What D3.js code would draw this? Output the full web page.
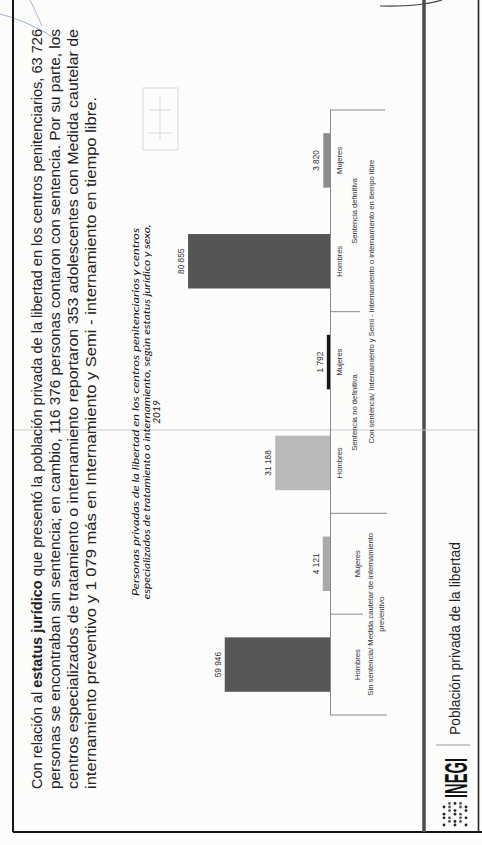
<!DOCTYPE html>
<html><head><meta charset="utf-8">
<script src="https://cdn.jsdelivr.net/npm/d3@7"></script>
<style>html,body{margin:0;padding:0;background:#fff;} svg{display:block}</style>
</head><body><svg id="c" width="482" height="845"></svg>
<script>
// ---------- DATA ----------
const topGroups = ["Sin sentencia/ Medida cautelar de internamiento", "Con sentencia/ Internamiento y Semi - internamiento o internamiento en tiempo libre"];
const statuses = ["Sin sentencia", "Sentencia no definitiva", "Sentencia definitiva"];
const sexes = ["Hombres", "Mujeres", "Hombres", "Mujeres", "Hombres", "Mujeres"];
const barStatus = [0, 0, 1, 1, 2, 2];
const values = [59946, 4121, 31188, 1792, 80855, 3820];
const titleLines = ["Personas privadas de la libertad en los centros penitenciarios y centros",
  "especializados de tratamiento o internamiento, según estatus jurídico y sexo,", "2019"];
const paragraph = [
  [["Con relación al ", false], ["estatus jurídico", true], [" que presentó la población privada de la libertad en los centros penitenciarios, 63 726", false]],
  [["personas se encontraban sin sentencia; en cambio, 116 376 personas contaron con sentencia. Por su parte, los", false]],
  [["centros especializados de tratamiento o internamiento reportaron 353 adolescentes con Medida cautelar de", false]],
  [["internamiento preventivo y 1 079 más en Internamiento y Semi - internamiento en tiempo libre.", false]]
];
const footerTitle = "Población privada de la libertad";
const barColors = ["#575757", "#a9a9a9", "#b9b9b9", "#161616", "#555555", "#8c8c8c"];

// ---------- PAGE (rotated frame: u along page, v across) ----------
const W = 482, H = 845;
const svg = d3.select("#c");
svg.append("rect").attr("width", W).attr("height", H).attr("fill", "#fcfcfb");
// pen marks (screen coords)
svg.append("path").attr("d", "M0,14 Q26,20 58,40").attr("fill", "none").attr("stroke", "#9ab0d0").attr("stroke-width", 1);
svg.append("path").attr("d", "M30,0 Q36,12 42,26").attr("fill", "none").attr("stroke", "#9ab0d0").attr("stroke-width", 0.9);
svg.append("path").attr("d", "M380,6 Q420,7 442,0").attr("fill", "none").attr("stroke", "#444").attr("stroke-width", 1.2);

const g = svg.append("g").attr("transform", `translate(0,${H}) rotate(-90)`);
const font = "'Liberation Sans', Arial, sans-serif";

// frame lines
g.append("line").attr("x1", 13).attr("x2", 845).attr("y1", 13).attr("y2", 13).attr("stroke", "#151515").attr("stroke-width", 2);
g.append("line").attr("x1", 13).attr("x2", 13).attr("y1", 13).attr("y2", 482).attr("stroke", "#151515").attr("stroke-width", 2);
g.append("line").attr("x1", 13).attr("x2", 845).attr("y1", 424).attr("y2", 424).attr("stroke", "#4d4d4d").attr("stroke-width", 3.5);
g.append("line").attr("x1", 13).attr("x2", 845).attr("y1", 478.5).attr("y2", 478.5).attr("stroke", "#222").attr("stroke-width", 1.6);
g.append("line").attr("x1", 415).attr("x2", 415).attr("y1", 14).attr("y2", 478).attr("stroke", "#c9c9c9").attr("stroke-width", 1);

// paragraph (justified via textLength)
const pStart = 56, pBase = [42, 60, 78, 96], pLen = [760, 760, 760, 692];
paragraph.forEach((segs, i) => {
  const t = g.append("text").attr("x", pStart).attr("y", pBase[i])
    .attr("font-family", font).attr("font-size", 14).attr("fill", "#222")
    .attr("textLength", pLen[i]).attr("lengthAdjust", "spacingAndGlyphs");
  segs.forEach(s => t.append("tspan").text(s[0]).attr("font-weight", s[1] ? "bold" : "normal"));
});

// faint bleed-through box
const bt = g.append("g").attr("stroke", "#d3dae2").attr("fill", "none").attr("stroke-width", 1);
bt.append("rect").attr("x", 695).attr("y", 143).attr("width", 62).attr("height", 35);
bt.append("line").attr("x1", 705).attr("x2", 748).attr("y1", 160).attr("y2", 160);
bt.append("line").attr("x1", 712).attr("x2", 712).attr("y1", 148).attr("y2", 172);
bt.append("line").attr("x1", 735).attr("x2", 735).attr("y1", 150).attr("y2", 170);

// chart title
const titleCx = 433, titleBase = [139, 150, 160], titleLen = [368, 375, null];
titleLines.forEach((l, i) => {
  const t = g.append("text").attr("x", titleCx).attr("y", titleBase[i]).attr("text-anchor", "middle")
    .attr("font-family", "Lato, 'Open Sans', sans-serif").attr("font-style", "italic")
    .attr("font-weight", 400).attr("font-size", 10.2).attr("fill", "#111").text(l);
  if (titleLen[i]) t.attr("textLength", titleLen[i]).attr("lengthAdjust", "spacingAndGlyphs");
});

// ---------- CHART ----------
const keys = d3.range(values.length);
const x = d3.scaleBand().domain(keys).range([130, 735]).paddingInner(0.46).paddingOuter(0.23);
const y = d3.scaleLinear().domain([0, 90000]).range([330, 172]);
const step = x.step();
const bound = i => 130 + i * step;
const fmt = v => d3.format(",")(v).replace(/,/g, " ");

g.selectAll("rect.bar").data(keys).join("rect").attr("class", "bar")
  .attr("x", i => x(i)).attr("width", x.bandwidth())
  .attr("y", i => y(values[i])).attr("height", i => y(0) - y(values[i]))
  .attr("fill", i => barColors[i]);

g.selectAll("text.val").data(keys).join("text").attr("class", "val")
  .attr("x", i => x(i) + x.bandwidth() / 2).attr("y", i => y(values[i]) - 4)
  .attr("text-anchor", "middle").attr("font-family", font).attr("font-size", 8.3).attr("fill", "#333")
  .text(i => fmt(values[i]));

// category axis
const axisCol = "#8a8a8a";
g.append("line").attr("x1", bound(0)).attr("x2", bound(6)).attr("y1", y(0) + 0.5).attr("y2", y(0) + 0.5)
  .attr("stroke", axisCol).attr("stroke-width", 1);
[[0, 387], [1, 363], [2, 387], [4, 360], [6, 385]].forEach(([b, v2]) => {
  g.append("line").attr("x1", bound(b)).attr("x2", bound(b)).attr("y1", y(0)).attr("y2", v2)
    .attr("stroke", axisCol).attr("stroke-width", 1);
});

const lab = (u, v, txt, size) => g.append("text").attr("x", u).attr("y", v).attr("text-anchor", "middle")
  .attr("font-family", font).attr("font-size", size || 7.6).attr("fill", "#333").text(txt);

// sex labels
keys.forEach(i => {
  const cx = x(i) + x.bandwidth() / 2;
  lab(cx, barStatus[i] === 0 ? 360 : 342, sexes[i]);
});
// status labels (con sentencia groups)
[1, 2].forEach(s => {
  const idx = keys.filter(i => barStatus[i] === s);
  const c = (bound(idx[0]) + bound(idx[idx.length - 1] + 1)) / 2;
  lab(c, 357, statuses[s]);
});
// top groups
lab((bound(0) + bound(2)) / 2, 373, topGroups[0]);
lab((bound(0) + bound(2)) / 2, 384, "preventivo");
lab((bound(2) + bound(6)) / 2 + 10, 374, topGroups[1]);

// ---------- FOOTER ----------
const dotRows = ["1011010", "0110111", "1101101", "0111011", "1010110"];
dotRows.forEach((r, ri) => r.split("").forEach((c, ci) => {
  if (c === "1") g.append("circle").attr("cx", 20 + ci * 3.6).attr("cy", 444 + ri * 5.5)
    .attr("r", 1.4).attr("fill", ri % 2 ? "#555" : "#222");
}));
g.append("text").attr("x", 47).attr("y", 467).attr("font-family", font).attr("font-weight", "bold")
  .attr("font-size", 32).attr("fill", "#111").attr("textLength", 40).attr("lengthAdjust", "spacingAndGlyphs").text("INEGI");
g.append("line").attr("x1", 100).attr("x2", 100).attr("y1", 436).attr("y2", 470).attr("stroke", "#999").attr("stroke-width", 1);
g.append("text").attr("x", 110).attr("y", 460).attr("font-family", font).attr("font-size", 14.5)
  .attr("fill", "#222").attr("textLength", 193).attr("lengthAdjust", "spacingAndGlyphs").text(footerTitle);
</script></body></html>
